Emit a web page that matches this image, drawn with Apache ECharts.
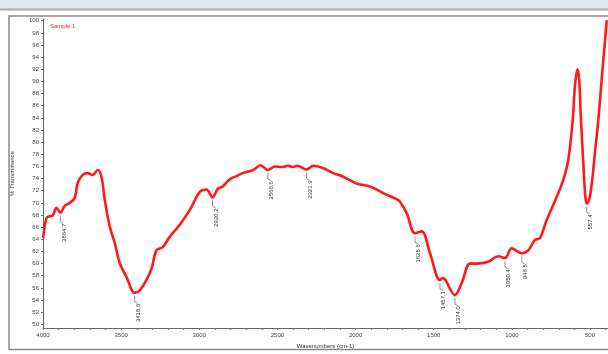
<!DOCTYPE html>
<html>
<head>
<meta charset="utf-8">
<script src="https://cdn.jsdelivr.net/npm/echarts@6/dist/echarts.min.js"></script>
<style>html,body{margin:0;padding:0;background:#fff;}#c{width:608px;height:354px;}</style>
</head>
<body>
<div id="c"></div>
<script>
const wavenumbers = [3999,3978,3957,3938,3914,3889,3861,3829,3797,3778,3746,3714,3682,3650,3626,3605,3573,3541,3509,3466,3413,3381,3338,3304,3274,3234,3189,3125,3061,2997,2954,2915,2882,2850,2805,2762,2722,2657,2608,2561,2516,2474,2431,2400,2374,2314,2271,2207,2143,2079,1994,1908,1823,1738,1716,1673,1620,1577,1524,1460,1441,1428,1364,1321,1268,1225,1151,1087,1044,1001,937,895,852,820,777,713,671,639,611,596,580,569,560,544,531,521,505,486,467,447,423,393];
const transmittance = [64.2,67.5,67.8,67.9,69.2,68.4,69.5,70.0,70.8,73.3,74.6,74.9,74.6,75.4,74.3,70.5,66.1,63.4,60.1,57.8,55.2,55.6,57.3,59.3,62.2,62.7,64.4,66.4,68.8,71.8,72.2,70.9,72.3,72.7,73.9,74.4,74.9,75.4,76.2,75.4,76.0,75.9,76.1,75.9,76.1,75.5,76.1,75.7,74.9,74.3,73.2,72.7,71.6,70.6,70.2,68.3,65.0,65.3,61.7,57.3,57.6,57.4,54.8,56.8,60.0,60.0,60.3,61.2,60.9,62.5,61.7,62.2,63.9,64.2,67.2,71.0,73.8,77.1,83.6,89.4,92.0,90.2,84.8,77.1,71.3,69.9,70.5,73.8,78.7,83.6,91.1,100.1];
const peakIdx = [5,20,31,39,45,56,59,62,68,70,85];
const peakLabels = ["3864.7","3418.6","2920.2","2566.6","2321.9","1625.6","1457.1","1374.0","1050.4","946.5","557.4"];
const xLabelValues = [4000,3500,3000,2500,2000,1500,1000,500];
const xTickValues = [4000,3900,3800,3700,3600,3500,3400,3300,3200,3100,3000,2900,2800,2700,2600,2500,2400,2300,2200,2100,2000,1900,1800,1700,1600,1500,1400,1300,1200,1100,1000,900,800,700,600,500,400];
const yLabelValues = [50,52,54,56,58,60,62,64,66,68,70,72,74,76,78,80,82,84,86,88,90,92,94,96,98,100];

const chart = echarts.init(document.getElementById('c'), null, {renderer:'canvas'});
const font = 'Liberation Sans';
chart.setOption({
  animation: false,
  backgroundColor: '#fff',
  title: {text: 'Sample 1', left: 45, top: 18, textStyle: {color: '#ff2020', fontSize: 6, fontWeight: 'normal', fontFamily: font}},
  graphic: [
    {type: 'rect', shape: {x: 0, y: 0, width: 608, height: 9}, style: {fill: '#e3e8ee'}, z: -1},
    {type: 'line', shape: {x1: 0, y1: 9.5, x2: 608, y2: 9.5}, style: {stroke: '#a8a8a8', lineWidth: 2}},
    {type: 'rect', shape: {x: 9, y: 16, width: 640, height: 333.5}, style: {fill: 'none', stroke: '#8a8a8a', lineWidth: 1.5}}
  ],
  grid: {left: 43, right: 0, top: 19, bottom: 26},
  xAxis: {
    type: 'value', inverse: true, min: 385, max: 4000,
    name: 'Wavenumbers (cm-1)', nameLocation: 'middle', nameGap: 15,
    nameTextStyle: {fontSize: 6, color: '#333', fontFamily: font},
    axisLine: {show: true, lineStyle: {color: '#666', width: 1}},
    axisTick: {show: true, length: 2, customValues: xTickValues, lineStyle: {color: '#777'}},
    axisLabel: {fontSize: 6, color: '#444', margin: 4, fontFamily: font, customValues: xLabelValues, formatter: v => String(v)},
    splitLine: {show: false}
  },
  yAxis: {
    type: 'value', min: 49.39, max: 100.28,
    name: '% Transmittance', nameLocation: 'middle', nameGap: 28, nameRotate: 90,
    nameTextStyle: {fontSize: 6, color: '#333', fontFamily: font},
    axisLine: {show: true, lineStyle: {color: '#666', width: 1}},
    axisTick: {show: true, length: 2, customValues: yLabelValues, lineStyle: {color: '#777'}},
    axisLabel: {fontSize: 6, color: '#444', margin: 4, fontFamily: font, customValues: yLabelValues, formatter: v => String(v)},
    splitLine: {show: false}
  },
  series: [
    {
      type: 'line', smooth: 0.35, symbol: 'none',
      data: wavenumbers.map((w, i) => [w, transmittance[i]]),
      lineStyle: {color: '#ff1a1a', width: 2.6},
      z: 3
    },
    {
      type: 'custom',
      data: peakIdx.map(i => [wavenumbers[i], transmittance[i]]),
      renderItem: function (params, api) {
        const p = api.coord([api.value(0), api.value(1)]);
        const txt = peakLabels[params.dataIndex];
        return {
          type: 'group',
          children: [
            {type: 'polyline', shape: {points: [[p[0], p[1] + 3], [p[0], p[1] + 9], [p[0] + 3, p[1] + 10.5]]},
             style: {stroke: '#777', lineWidth: 0.8, fill: 'none'}},
            {type: 'text', x: p[0] + 3.5, y: p[1] + 11, rotation: Math.PI / 2,
             style: {text: txt, fontSize: 6, fill: '#333', align: 'right', verticalAlign: 'middle', fontFamily: font}}
          ]
        };
      },
      z: 4
    }
  ]
});
</script>
</body>
</html>
